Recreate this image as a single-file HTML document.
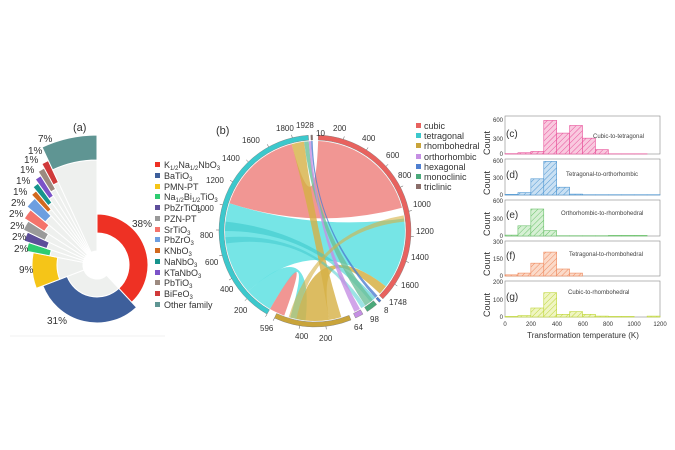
<!DOCTYPE html>
<html><head><meta charset="utf-8"><style>
html,body{margin:0;padding:0;background:#fff;}
svg{display:block;font-family:"Liberation Sans",sans-serif;}
</style></head><body>
<svg id="s" width="675" height="450" viewBox="0 0 675 450" xmlns="http://www.w3.org/2000/svg">
<defs>
<pattern id="hc" width="4" height="4" patternUnits="userSpaceOnUse" patternTransform="rotate(45)"><rect width="4" height="4" fill="#f9c9df"/><line x1="0" y1="0" x2="0" y2="4" stroke="#e8529a" stroke-width="1"/></pattern>
<pattern id="hd" width="4" height="4" patternUnits="userSpaceOnUse" patternTransform="rotate(45)"><rect width="4" height="4" fill="#c9e0f3"/><line x1="0" y1="0" x2="0" y2="4" stroke="#4f97d2" stroke-width="1"/></pattern>
<pattern id="he" width="4" height="4" patternUnits="userSpaceOnUse" patternTransform="rotate(45)"><rect width="4" height="4" fill="#d6f0d4"/><line x1="0" y1="0" x2="0" y2="4" stroke="#6cc26c" stroke-width="1"/></pattern>
<pattern id="hf" width="4" height="4" patternUnits="userSpaceOnUse" patternTransform="rotate(45)"><rect width="4" height="4" fill="#fbdac9"/><line x1="0" y1="0" x2="0" y2="4" stroke="#ef8a5e" stroke-width="1"/></pattern>
<pattern id="hg" width="4" height="4" patternUnits="userSpaceOnUse" patternTransform="rotate(45)"><rect width="4" height="4" fill="#eff5c2"/><line x1="0" y1="0" x2="0" y2="4" stroke="#bfd63a" stroke-width="1"/></pattern>
</defs>
<g id="pie"></g>
<g id="chord"></g>
<g id="hist"></g>

<!-- panel a text -->
<g font-size="10" fill="#333">
<text x="73" y="131" font-size="11">(a)</text>
<text x="132" y="227">38%</text>
<text x="47" y="324">31%</text>
<text x="19" y="273">9%</text>
<text x="14" y="252">2%</text>
<text x="12" y="240">2%</text>
<text x="10" y="229">2%</text>
<text x="9" y="217">2%</text>
<text x="11" y="206">2%</text>
<text x="13" y="195">1%</text>
<text x="16" y="184">1%</text>
<text x="20" y="173">1%</text>
<text x="24" y="163">1%</text>
<text x="28" y="154">1%</text>
<text x="38" y="142">7%</text>
</g>
<g font-size="9" fill="#333">
<rect x="155" y="162" width="5" height="5" fill="#ee3124"/><text x="164" y="168">K<tspan font-size="6" dy="2">1/2</tspan><tspan dy="-2">Na</tspan><tspan font-size="6" dy="2">1/2</tspan><tspan dy="-2">NbO</tspan><tspan font-size="6" dy="2">3</tspan></text>
<rect x="155" y="173" width="5" height="5" fill="#3e5f9b"/><text x="164" y="179">BaTiO<tspan font-size="6" dy="2">3</tspan></text>
<rect x="155" y="184" width="5" height="5" fill="#f5c518"/><text x="164" y="190">PMN-PT</text>
<rect x="155" y="194" width="5" height="5" fill="#2ecc71"/><text x="164" y="200">Na<tspan font-size="6" dy="2">1/2</tspan><tspan dy="-2">Bi</tspan><tspan font-size="6" dy="2">1/2</tspan><tspan dy="-2">TiO</tspan><tspan font-size="6" dy="2">3</tspan></text>
<rect x="155" y="205" width="5" height="5" fill="#5d4e9a"/><text x="164" y="211">PbZrTiO<tspan font-size="6" dy="2">3</tspan></text>
<rect x="155" y="216" width="5" height="5" fill="#9a9a9a"/><text x="164" y="222">PZN-PT</text>
<rect x="155" y="227" width="5" height="5" fill="#f4736b"/><text x="164" y="233">SrTiO<tspan font-size="6" dy="2">3</tspan></text>
<rect x="155" y="237" width="5" height="5" fill="#6d9ee0"/><text x="164" y="243">PbZrO<tspan font-size="6" dy="2">3</tspan></text>
<rect x="155" y="248" width="5" height="5" fill="#d2691e"/><text x="164" y="254">KNbO<tspan font-size="6" dy="2">3</tspan></text>
<rect x="155" y="259" width="5" height="5" fill="#16948c"/><text x="164" y="265">NaNbO<tspan font-size="6" dy="2">3</tspan></text>
<rect x="155" y="270" width="5" height="5" fill="#7b52c8"/><text x="164" y="276">KTaNbO<tspan font-size="6" dy="2">3</tspan></text>
<rect x="155" y="280" width="5" height="5" fill="#9c8a80"/><text x="164" y="286">PbTiO<tspan font-size="6" dy="2">3</tspan></text>
<rect x="155" y="291" width="5" height="5" fill="#d03a3a"/><text x="164" y="297">BiFeO<tspan font-size="6" dy="2">3</tspan></text>
<rect x="155" y="302" width="5" height="5" fill="#5f9593"/><text x="164" y="308">Other family</text>
</g>

<!-- panel b text -->
<g font-size="8" fill="#333">
<text x="216" y="134" font-size="11">(b)</text>
<text x="316" y="136">10</text>
<text x="333" y="131">200</text>
<text x="362" y="141">400</text>
<text x="386" y="158">600</text>
<text x="398" y="178">800</text>
<text x="413" y="207">1000</text>
<text x="416" y="234">1200</text>
<text x="411" y="260">1400</text>
<text x="401" y="288">1600</text>
<text x="389" y="305">1748</text>
<text x="384" y="313">8</text>
<text x="370" y="322">98</text>
<text x="354" y="330">64</text>
<text x="319" y="341">200</text>
<text x="295" y="339">400</text>
<text x="260" y="331">596</text>
<text x="234" y="313">200</text>
<text x="220" y="292">400</text>
<text x="205" y="265">600</text>
<text x="200" y="238">800</text>
<text x="196" y="211">1000</text>
<text x="206" y="183">1200</text>
<text x="222" y="161">1400</text>
<text x="242" y="143">1600</text>
<text x="276" y="131">1800</text>
<text x="296" y="128">1928</text>
</g>
<g font-size="9" fill="#333">
<rect x="416" y="123" width="5" height="5" fill="#e8625e"/><text x="424" y="129">cubic</text>
<rect x="416" y="133" width="5" height="5" fill="#3cc8cc"/><text x="424" y="139">tetragonal</text>
<rect x="416" y="143" width="5" height="5" fill="#c9a43a"/><text x="424" y="149">rhombohedral</text>
<rect x="416" y="154" width="5" height="5" fill="#c58fe3"/><text x="424" y="160">orthorhombic</text>
<rect x="416" y="164" width="5" height="5" fill="#4f7fd0"/><text x="424" y="170">hexagonal</text>
<rect x="416" y="174" width="5" height="5" fill="#4aa97a"/><text x="424" y="180">monoclinic</text>
<rect x="416" y="184" width="5" height="5" fill="#8a6e6a"/><text x="424" y="190">triclinic</text>
</g>

<!-- histogram text -->
<g font-size="6" fill="#333" text-anchor="end">
<text x="503" y="122">600</text><text x="503" y="141">300</text><text x="503" y="156">0</text>
<text x="503" y="163">600</text><text x="503" y="180">300</text><text x="503" y="197">0</text>
<text x="503" y="203">600</text><text x="503" y="221">300</text><text x="503" y="238">0</text>
<text x="503" y="244">300</text><text x="503" y="261">150</text><text x="503" y="278">0</text>
<text x="503" y="284">200</text><text x="503" y="302">100</text><text x="503" y="319">0</text>
</g>
<g font-size="6" fill="#333" text-anchor="middle">
<text x="505" y="326">0</text><text x="531" y="326">200</text><text x="557" y="326">400</text><text x="583" y="326">600</text><text x="608" y="326">800</text><text x="634" y="326">1000</text><text x="660" y="326">1200</text>
</g>
<text x="583" y="338" font-size="8" fill="#333" text-anchor="middle">Transformation temperature (K)</text>
<g font-size="9" fill="#333">
<text transform="translate(490,155) rotate(-90)">Count</text>
<text transform="translate(490,195) rotate(-90)">Count</text>
<text transform="translate(490,236) rotate(-90)">Count</text>
<text transform="translate(490,276) rotate(-90)">Count</text>
<text transform="translate(490,317) rotate(-90)">Count</text>
<text x="506" y="137" font-size="10">(c)</text>
<text x="506" y="178" font-size="10">(d)</text>
<text x="506" y="218" font-size="10">(e)</text>
<text x="506" y="259" font-size="10">(f)</text>
<text x="506" y="300" font-size="10">(g)</text>
</g>
<g font-size="6" fill="#444">
<text x="593" y="138">Cubic-to-tetragonal</text>
<text x="566" y="176">Tetragonal-to-orthorhombic</text>
<text x="561" y="215">Orthorhombic-to-rhombohedral</text>
<text x="569" y="256">Tetragonal-to-rhombohedral</text>
<text x="568" y="294">Cubic-to-rhombohedral</text>
</g>
</svg>
<script>
var NS="http://www.w3.org/2000/svg";
function el(p,t,a){var e=document.createElementNS(NS,t);for(var k in a)e.setAttribute(k,a[k]);p.appendChild(e);return e;}
function pt(cx,cy,r,a){a=a*Math.PI/180;return [cx+r*Math.sin(a),cy-r*Math.cos(a)];}
function band(cx,cy,r0,r1,a0,a1){
 var p1=pt(cx,cy,r1,a0),p2=pt(cx,cy,r1,a1),p3=pt(cx,cy,r0,a1),p4=pt(cx,cy,r0,a0),l=(a1-a0)>180?1:0;
 return "M"+p1+"A"+r1+","+r1+" 0 "+l+" 1 "+p2+"L"+p3+"A"+r0+","+r0+" 0 "+l+" 0 "+p4+"Z";}
// pie
var pie=document.getElementById("pie"),cx=97,cy=265;
var sl=[["#ee3124",0,137,32,51],["#3e5f9b",137,249,32,58],["#f5c518",249,281,40,65]];
var cols=["#2ecc71","#5d4e9a","#9a9a9a","#f4736b","#6d9ee0","#d2691e","#16948c","#7b52c8","#9c8a80","#d03a3a"];
var a=281;
for(var i=0;i<10;i++){var w=i<5?7.2:3.6,ro=72+i*4.8;sl.push([cols[i],a,a+w,ro-24,ro]);a+=w;}
sl.push(["#5f9593",335,360,105,130]);
sl.forEach(function(s,i){
 if(i>0) el(pie,"path",{d:band(cx,cy,14,s[3],s[1],s[2]),fill:"#eef0ee",stroke:"#fff","stroke-width":1});
 el(pie,"path",{d:band(cx,cy,s[3],s[4],s[1],s[2]),fill:s[0],stroke:"#fff","stroke-width":1});
});
el(pie,"line",{x1:10,y1:336,x2:165,y2:336,stroke:"#f2f2f2","stroke-width":1});
// chord
var ch=document.getElementById("chord"),X=315,Y=231,R=90;
function arcRing(c,a0,a1){el(ch,"path",{d:band(X,Y,R+1,R+6,a0,a1),fill:c,stroke:"#777","stroke-width":0.4});}
function rib(c,a0,a1,b0,b1,op){
 var p1=pt(X,Y,R,a0),p2=pt(X,Y,R,a1),q1=pt(X,Y,R,b0),q2=pt(X,Y,R,b1);
 var d="M"+p1+"A"+R+","+R+" 0 0 1 "+p2+"Q"+X+","+Y+" "+q1+"A"+R+","+R+" 0 0 1 "+q2+"Q"+X+","+Y+" "+p1+"Z";
 el(ch,"path",{d:d,fill:c,"fill-opacity":op||0.85,stroke:"none"});}
rib("#ef8480",2,75,288,345);
rib("#5ee0e2",228,288,82,128);
rib("#ef8480",200,206,206,210);
rib("#5ee0e2",210,228,186,196);
rib("#d6b045",345,353,163,171,0.8);
rib("#d6b045",171,192,128,134,0.85);
rib("#3cc8cc",270,276,138,142,0.6);
rib("#3cc8cc",262,266,146,149,0.5);
rib("#6cc09a",353,356,140,146,0.8);
rib("#c58fe3",356,357.5,150,154,0.8);
rib("#4f7fd0",357.5,358.5,136,138,0.8);
rib("#d6b045",192,197,80,84,0.6);
arcRing("#e8625e",2,135);
arcRing("#4f7fd0",136.5,138);
arcRing("#4aa97a",140,147);
arcRing("#c58fe3",150,155);
arcRing("#c9a43a",158,205);
arcRing("#3cc8cc",210,356);
arcRing("#8a6e6a",357.5,358.5);
function ticks(a0,a1,n,step,max){for(var v=0;v<=max;v+=step){var ang=a0+(a1-a0)*v/max,p=pt(X,Y,R+6,ang),q=pt(X,Y,R+9,ang);el(ch,"line",{x1:p[0],y1:p[1],x2:q[0],y2:q[1],stroke:"#555","stroke-width":0.5});}}
ticks(2,135,0,200,1748);ticks(210,356,0,200,1928);ticks(205,158,0,200,596);
// hist
var h=document.getElementById("hist");
var P=[[116,154,600,"hc","#e8529a",[5,20,40,530,330,450,250,70,3,3,3,0]],
[159,195,600,"hd","#4f97d2",[10,40,270,560,130,15,5,5,5,5,5,5]],
[200,236,600,"he","#6cc26c",[15,170,450,90,5,5,5,5,10,10,10,0]],
[241,276,300,"hf","#ef8a5e",[10,25,110,205,60,25,0,0,0,0,0,0]],
[281,317,200,"hg","#bfd63a",[3,8,50,135,15,30,15,5,3,3,0,5]]];
var x0=505,dx=12.92;
P.forEach(function(p){
 el(h,"rect",{x:x0,y:p[0],width:155,height:p[1]-p[0],fill:"none",stroke:"#888","stroke-width":0.6});
 p[5].forEach(function(v,i){if(!v)return;var hh=(p[1]-p[0])*v/p[2];
  el(h,"rect",{x:x0+i*dx,y:p[1]-hh,width:dx,height:hh,fill:"url(#"+p[3]+")",stroke:p[4],"stroke-width":0.6});});
});
</script>
</body></html>
